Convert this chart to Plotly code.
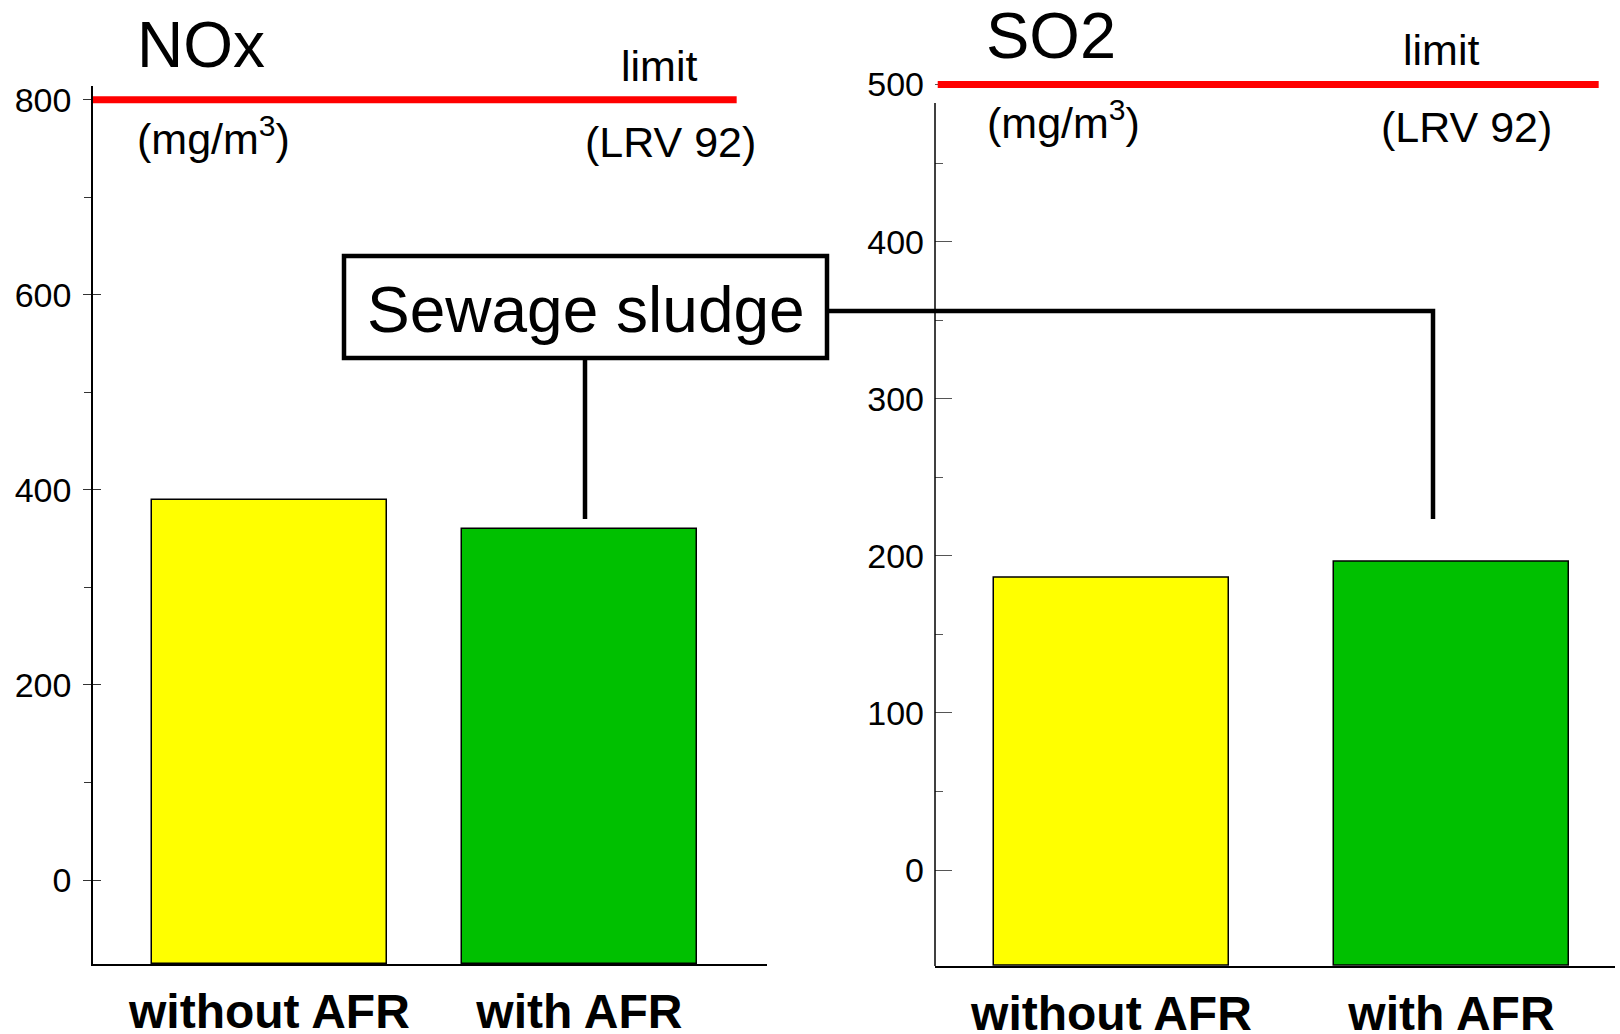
import plotly.graph_objects as go

# ---------------- data ----------------
categories = ["without AFR", "with AFR"]
nox_values = [390, 360]
so2_values = [186, 196]
nox_limit = 800
so2_limit = 500
bar_colors = ["#FFFF00", "#00C000"]
nox_ticks = [0, 200, 400, 600, 800]
nox_minor = [100, 300, 500, 700]
so2_ticks = [0, 100, 200, 300, 400, 500]
so2_minor = [50, 150, 250, 350, 450]

# ---------------- layout helpers (pixel -> paper) ----------------
W, H = 1620, 1034
FONT = "Liberation Sans, Arial, Helvetica, sans-serif"


def px(x):
    return x / W


def py(y):
    return 1 - y / H


NOX_MIN, NOX_MAX = -86, 814
SO2_MIN, SO2_MAX = -61.1, 505

fig = go.Figure()

fig.add_trace(go.Bar(
    x=categories, y=[v - NOX_MIN for v in nox_values], base=NOX_MIN,
    marker=dict(color=bar_colors, line=dict(color="black", width=1.5)),
    width=0.758, xaxis="x", yaxis="y", showlegend=False, hoverinfo="skip"))

fig.add_trace(go.Bar(
    x=categories, y=[v - SO2_MIN for v in so2_values], base=SO2_MIN,
    marker=dict(color=bar_colors, line=dict(color="black", width=1.5)),
    width=0.691, xaxis="x2", yaxis="y2", showlegend=False, hoverinfo="skip"))

# invisible helper trace so the overlay axis (inside half of left ticks) is drawn
fig.add_trace(go.Scatter(x=[categories[0]], y=[0], xaxis="x", yaxis="y3",
                         mode="markers", marker=dict(opacity=0),
                         showlegend=False, hoverinfo="skip"))

tickfont = dict(family=FONT, size=34, color="black")
xtickfont = dict(family=FONT, size=48, color="black", weight="bold")

fig.update_layout(
    width=W, height=H, autosize=False,
    margin=dict(l=0, r=0, t=0, b=0, autoexpand=False),
    paper_bgcolor="white", plot_bgcolor="rgba(0,0,0,0)",
    showlegend=False, bargap=0,
    xaxis=dict(domain=[px(93), px(767)], range=[-0.569, 1.605], anchor="y",
               showline=True, linecolor="black", linewidth=1.5, ticks="",
               showgrid=False, zeroline=False, tickfont=xtickfont,
               ticklabelstandoff=5, automargin=False),
    yaxis=dict(domain=[py(964), py(86)], range=[NOX_MIN, NOX_MAX], anchor="x",
               showline=True, linecolor="black", linewidth=1.5,
               tickmode="array", tickvals=nox_ticks,
               ticks="outside", ticklen=8, tickwidth=1, tickcolor="#333",
               minor=dict(tickmode="array", tickvals=nox_minor, ticks="outside",
                          ticklen=7, tickwidth=1, tickcolor="#333"),
               showgrid=False, zeroline=False, tickfont=tickfont,
               ticklabelstandoff=5, automargin=False),
    yaxis3=dict(domain=[py(964), py(86)], range=[NOX_MIN, NOX_MAX], anchor="x",
                overlaying="y", showline=False, tickmode="array", tickvals=nox_ticks,
                ticks="inside", ticklen=8, tickwidth=1, tickcolor="#333",
                showticklabels=False, showgrid=False, zeroline=False,
                automargin=False),
    xaxis2=dict(domain=[px(935), px(1615)], range=[-0.519, 1.481], anchor="y2",
                showline=True, linecolor="black", linewidth=1.5, ticks="",
                showgrid=False, zeroline=False, tickfont=xtickfont,
                ticklabelstandoff=5, automargin=False),
    yaxis2=dict(domain=[py(966), py(870 - SO2_MAX * 1.571)], range=[SO2_MIN, SO2_MAX],
                anchor="x2", showline=False,
                tickmode="array", tickvals=so2_ticks,
                ticks="inside", ticklen=17, tickwidth=1, tickcolor="#555",
                minor=dict(tickmode="array", tickvals=so2_minor, ticks="inside",
                           ticklen=8, tickwidth=1, tickcolor="#555"),
                showgrid=False, zeroline=False, tickfont=tickfont,
                ticklabelstandoff=10, automargin=False),
)

shapes = [
    # red limit lines
    dict(type="line", xref="x domain", yref="y", x0=0, x1=0.955,
         y0=nox_limit, y1=nox_limit, line=dict(color="#FF0000", width=7)),
    dict(type="line", xref="x2 domain", yref="y2", x0=0.004, x1=0.976,
         y0=so2_limit, y1=so2_limit, line=dict(color="#FF0000", width=7)),
    # right y axis line (shorter than the range)
    dict(type="line", xref="paper", yref="paper", x0=px(935), x1=px(935),
         y0=py(966), y1=py(103), line=dict(color="black", width=1.5)),
    # Sewage sludge box
    dict(type="rect", xref="paper", yref="paper", x0=px(344), x1=px(827),
         y0=py(358), y1=py(256), line=dict(color="black", width=4.5),
         fillcolor="white"),
    # connectors
    dict(type="line", xref="paper", yref="paper", x0=px(585), x1=px(585),
         y0=py(358), y1=py(519), line=dict(color="black", width=4.5)),
    dict(type="path", xref="paper", yref="paper",
         path=f"M {px(827)},{py(311)} L {px(1433)},{py(311)} L {px(1433)},{py(519)}",
         line=dict(color="black", width=4.5)),
]
fig.update_layout(shapes=shapes)


def txt(text, x, y, size, xanchor="left"):
    return dict(text=text, x=px(x), y=py(y), xref="paper", yref="paper",
                xanchor=xanchor, yanchor="middle", showarrow=False,
                font=dict(family=FONT, size=size, color="black"))


annotations = [
    txt("NOx", 135, 45, 64),
    txt("SO2", 984, 35, 65),
    txt("limit", 619, 66, 43),
    txt("(mg/m<sup>3</sup>)", 135, 136, 43),
    txt("(LRV 92)", 583, 142, 43),
    txt("limit", 1401, 50, 43),
    txt("(mg/m<sup>3</sup>)", 985, 120, 43),
    txt("(LRV 92)", 1379, 127, 43),
    txt("Sewage sludge", 586, 310, 64, xanchor="center"),
]
fig.update_layout(annotations=annotations)

fig.write_html("out.html", config={"displayModeBar": False},
               post_script="document.body.style.margin='0';document.body.style.overflow='hidden';")
